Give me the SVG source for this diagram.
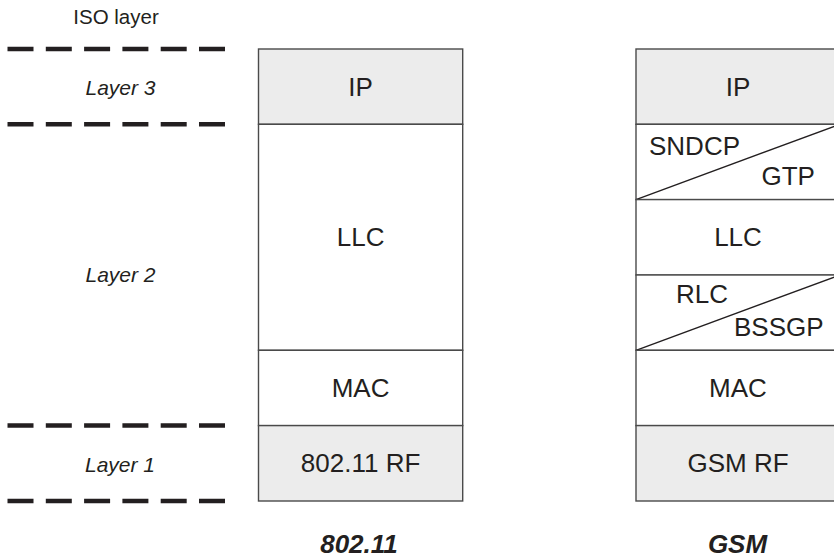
<svg xmlns="http://www.w3.org/2000/svg" width="834" height="559" viewBox="0 0 834 559">
<style>
.bg{fill:#ffffff}
.cell{fill:#ffffff;stroke:#4a4a4a;stroke-width:1.4}
.cell.g{fill:#ececec}
.t{font-family:"Liberation Sans",Arial,sans-serif;font-size:26px;fill:#231f20}
.c{text-anchor:middle}
.lay{font-family:"Liberation Sans",Arial,sans-serif;font-size:21px;font-style:italic;fill:#231f20;text-anchor:middle}
.iso{font-family:"Liberation Sans",Arial,sans-serif;font-size:20.5px;fill:#231f20;text-anchor:middle}
.ttl{font-family:"Liberation Sans",Arial,sans-serif;font-size:26px;font-style:italic;font-weight:bold;fill:#231f20;text-anchor:middle}
.dash{stroke:#231f20;stroke-width:4.5;stroke-dasharray:26 12.3;fill:none}
.diag{stroke:#231f20;stroke-width:1.4;fill:none}
</style>
<rect class="bg" x="0" y="0" width="834" height="559"/>
<g id="iso-labels">
<text class="iso" x="116" y="24">ISO layer</text>
<text class="lay" x="120.5" y="94.5">Layer 3</text>
<text class="lay" x="120.5" y="282">Layer 2</text>
<text class="lay" x="120" y="471.5">Layer 1</text>
</g>
<g id="connectors">
<line class="dash" x1="7.5" y1="49" x2="226" y2="49"/>
<line class="dash" x1="7.5" y1="124.3" x2="226" y2="124.3"/>
<line class="dash" x1="7.5" y1="425.6" x2="226" y2="425.6"/>
<line class="dash" x1="7.5" y1="501" x2="226" y2="501"/>
</g>
<g id="wifi-ip"><rect class="cell g" x="258.5" y="49" width="204.2" height="75.3"/><text class="t c" x="360.6" y="95.5">IP</text></g>
<g id="wifi-llc"><rect class="cell" x="258.5" y="124.3" width="204.2" height="226"/><text class="t c" x="360.6" y="245.5">LLC</text></g>
<g id="wifi-mac"><rect class="cell" x="258.5" y="350.3" width="204.2" height="75.3"/><text class="t c" x="360.6" y="396.6">MAC</text></g>
<g id="wifi-rf"><rect class="cell g" x="258.5" y="425.6" width="204.2" height="75.4"/><text class="t c" x="360.6" y="471.8">802.11 RF</text></g>
<g id="gsm-ip"><rect class="cell g" x="636" y="49" width="204" height="75.3"/><text class="t c" x="738" y="95.5">IP</text></g>
<g id="gsm-sndcp-gtp"><rect class="cell" x="636" y="124.3" width="204" height="75.3"/><line class="diag" x1="636" y1="199.6" x2="840" y2="124.3"/><text class="t" x="649" y="155">SNDCP</text><text class="t" x="761.5" y="185">GTP</text></g>
<g id="gsm-llc"><rect class="cell" x="636" y="199.6" width="204" height="75.4"/><text class="t c" x="738" y="245.5">LLC</text></g>
<g id="gsm-rlc-bssgp"><rect class="cell" x="636" y="275" width="204" height="75.3"/><line class="diag" x1="636" y1="350.3" x2="840" y2="275"/><text class="t" x="676" y="302.7">RLC</text><text class="t" x="734" y="336">BSSGP</text></g>
<g id="gsm-mac"><rect class="cell" x="636" y="350.3" width="204" height="75.3"/><text class="t c" x="738" y="396.6">MAC</text></g>
<g id="gsm-rf"><rect class="cell g" x="636" y="425.6" width="204" height="75.4"/><text class="t c" x="738" y="471.8">GSM RF</text></g>
<g id="titles">
<text class="ttl" x="359" y="553">802.11</text>
<text class="ttl" x="737.5" y="552.7">GSM</text>
</g>
</svg>
